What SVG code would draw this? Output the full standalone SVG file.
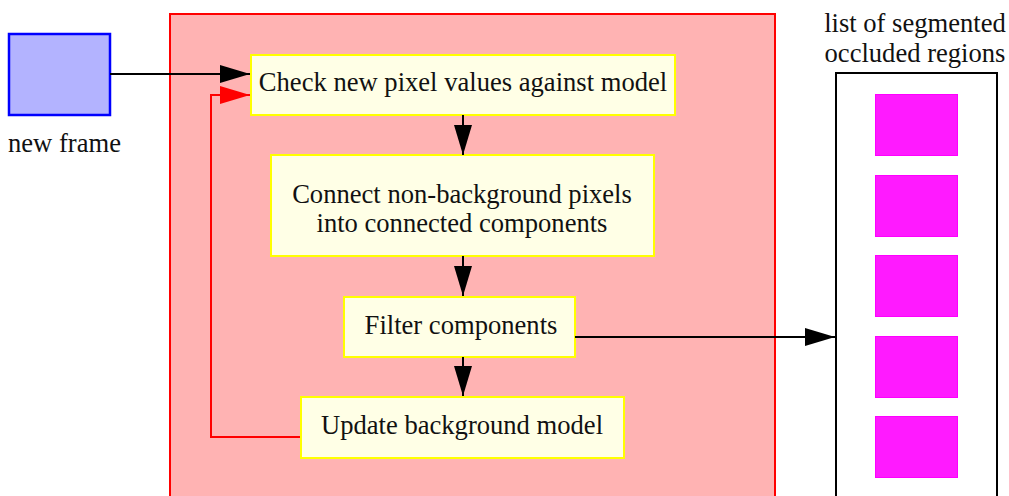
<svg xmlns="http://www.w3.org/2000/svg" width="1009" height="496" viewBox="0 0 1009 496" font-family="'Liberation Serif', 'Times New Roman', serif">
<style>
text{font-family:'Liberation Serif','Times New Roman',serif;font-size:26.6px;fill:#111}
.step{fill:#ffffe6;stroke:#ffff00;stroke-width:2}
.reg{fill:#ff1aff;stroke:#ff00ff;stroke-width:1}
.c{fill:none;stroke:#000;stroke-width:2}
.cr{fill:none;stroke:#ff0000;stroke-width:2}
</style>
<defs>
<marker id="ah" markerUnits="userSpaceOnUse" markerWidth="30" markerHeight="18" refX="30" refY="9" orient="auto">
<path d="M0,0 L30,9 L0,18 Z" fill="#000"/>
</marker>
<marker id="ahr" markerUnits="userSpaceOnUse" markerWidth="30" markerHeight="18" refX="30" refY="9" orient="auto">
<path d="M0,0 L30,9 L0,18 Z" fill="#ff0000"/>
</marker>
</defs>
<g id="process">
<rect x="170" y="14" width="605" height="500" fill="#ffb3b3" stroke="#ff0000" stroke-width="2"/>
</g>
<g id="new-frame">
<rect x="9" y="34" width="101" height="81" fill="#b3b3ff" stroke="#0000ff" stroke-width="2.5"/>
<text x="8" y="152">new frame</text>
</g>
<g id="list">
<rect x="836" y="73" width="161" height="440" fill="#fff" stroke="#000" stroke-width="2"/>
<text x="915" y="32" text-anchor="middle">list of segmented</text>
<text x="915" y="62" text-anchor="middle">occluded regions</text>
<rect class="reg" x="875.5" y="94.5" width="82" height="61"/>
<rect class="reg" x="875.5" y="175.5" width="82" height="61"/>
<rect class="reg" x="875.5" y="255.5" width="82" height="61"/>
<rect class="reg" x="875.5" y="336.5" width="82" height="61"/>
<rect class="reg" x="875.5" y="416.5" width="82" height="61"/>
</g>
<g id="check">
<rect class="step" x="251" y="55" width="424" height="60"/>
<text x="463" y="90.5" text-anchor="middle">Check new pixel values against model</text>
</g>
<g id="connect">
<rect class="step" x="271" y="155" width="383" height="101"/>
<text x="462" y="202.5" text-anchor="middle">Connect non-background pixels</text>
<text x="462" y="231.5" text-anchor="middle">into connected components</text>
</g>
<g id="filter">
<rect class="step" x="344" y="297" width="231" height="60"/>
<text x="461" y="333.5" text-anchor="middle">Filter components</text>
</g>
<g id="update">
<rect class="step" x="301" y="397" width="323" height="61"/>
<text x="462" y="433.5" text-anchor="middle">Update background model</text>
</g>
<g id="connectors">
<path class="c" d="M110,74 H250" marker-end="url(#ah)"/>
<path class="cr" d="M300,437 H211 V95 H250" marker-end="url(#ahr)"/>
<path class="c" d="M463,115 V155" marker-end="url(#ah)"/>
<path class="c" d="M463,256 V296" marker-end="url(#ah)"/>
<path class="c" d="M463,357 V396" marker-end="url(#ah)"/>
<path class="c" d="M575,337 H835" marker-end="url(#ah)"/>
</g>
</svg>
